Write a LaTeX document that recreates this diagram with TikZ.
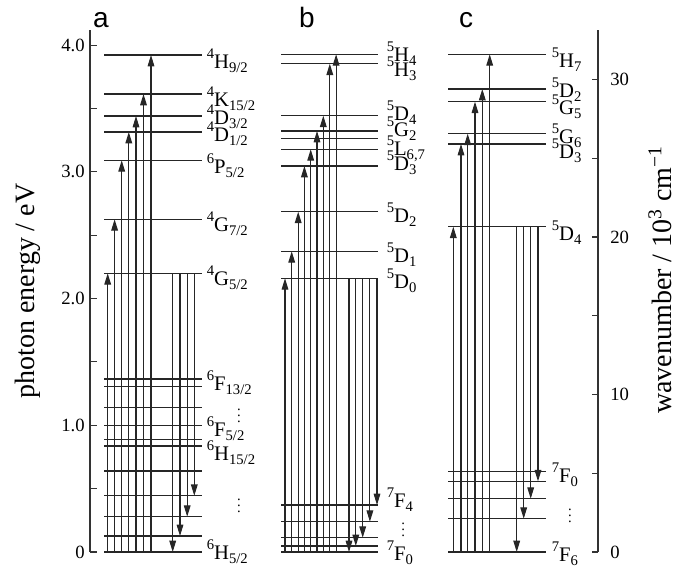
\documentclass[tikz,border=0pt]{standalone}
\usepackage{fontspec}
\setmainfont{Liberation Serif}
\newfontfamily\panelfont{Liberation Sans}
\usepackage{tikz}
\usetikzlibrary{arrows.meta}

% term symbol: multiplicity, letter, J
\newcommand{\term}[3]{%
  \raisebox{0.47em}{\fontsize{11}{11}\selectfont #1}#2%
  \raisebox{-0.2em}{\fontsize{11}{11}\selectfont #3}}
% small vertical dots
\newcommand{\vdotsmark}{%
  \vbox{\baselineskip=4.6pt \lineskiplimit=0pt \hbox{.}\hbox{.}\hbox{.}}}

\begin{document}
\begin{tikzpicture}[
  x=0.75pt, y=-0.75pt,
  axis/.style={line width=0.8pt, draw=black!80},
  levelline/.style={line width=0.9pt, draw=black!85},
  uparrow/.style={
    -{Triangle[length=8.5pt, width=5pt]},
    line width=0.8pt, draw=black!85, fill=black!85
  },
  downarrow/.style={uparrow},
  termlabel/.style={anchor=base west, inner sep=0pt,
    font=\fontsize{15.5}{17}\selectfont},
  ticklabel/.style={inner sep=0pt, font=\fontsize{14}{16}\selectfont},
  dotslabel/.style={inner sep=0pt, font=\fontsize{11}{11}\selectfont},
  axistitle/.style={rotate=90, inner sep=0pt, font=\fontsize{21}{24}\selectfont},
  panellabel/.style={anchor=base, inner sep=0pt,
    font=\panelfont\fontsize{21}{21}\selectfont}
]
\useasboundingbox (0,0) rectangle (678,568);

% axes
\draw[axis] (90,30) -- (90,552);
\foreach \k in {0,...,8}
  \draw[axis] (90,{552-63.35*\k}) -- ++(6.5,0);
\foreach \k/\t in {0/0, 2/1.0, 4/2.0, 6/3.0, 8/4.0}
  \node[ticklabel, anchor=east] (ev\k) at (85,{552-63.35*\k}) {\t};
\node[axistitle] (evtitle) at (28,291) {photon energy / eV};

\draw[axis] (598,30) -- (598,552);
\foreach \k in {0,...,6}
  \draw[axis] (598,{552-78.75*\k}) -- ++(-6.5,0);
\foreach \k/\t in {0/0, 2/10, 4/20, 6/30}
  \node[ticklabel, anchor=west] (wn\k) at (610,{552-78.75*\k}) {\t};
\node[axistitle] (wntitle) at (660,280)
  {wavenumber / 10\textsuperscript{3} cm\textsuperscript{−1}};

% panel a
\node[panellabel] (pa) at (101,27) {a};
\foreach \y in {55, 94, 116, 132, 160.3, 219.3, 273.3, 379, 386.7, 407.5,
                425.2, 439.3, 446, 471, 495.8, 516.7, 536, 552}
  \draw[levelline] (104.3,\y) -- (201.7,\y);
\foreach \x/\y in {107.7/273.3, 114.6/219.3, 121.7/160.3, 128.8/132,
                   136/116, 143.5/94, 151/55}
  \draw[uparrow] (\x,552) -- (\x,\y);
\foreach \x/\y in {172.7/552, 180/536, 187.2/516.7, 194.3/495.8}
  \draw[downarrow] (\x,273.3) -- (\x,\y);
\foreach \m/\l/\j/\b [count=\i] in {4/H/9\slash 2/68, 4/K/15\slash 2/106.7,
    4/D/3\slash 2/124, 4/D/1\slash 2/141.7, 6/P/5\slash 2/173.3,
    4/G/7\slash 2/231.3, 4/G/5\slash 2/285.3, 6/F/13\slash 2/390.7,
    6/F/5\slash 2/436.7, 6/H/15\slash 2/460, 6/H/5\slash 2/559}
  \node[termlabel] (ta\i) at (206.5,\b) {\term{\m}{\l}{\j}};
\node[dotslabel] (da1) at (239,416) {\vdotsmark};
\node[dotslabel] (da2) at (239,506) {\vdotsmark};

% panel b
\node[panellabel] (pb) at (307,27) {b};
\foreach \y in {54.3, 63.7, 115.7, 131, 138.3, 149.3, 166, 211.7, 251.3,
                278.3, 505, 521.7, 537.7, 546, 552}
  \draw[levelline] (281,\y) -- (378.3,\y);
\foreach \x/\y in {285/278.3, 291.7/251.3, 298.2/211.7, 304.4/166,
                   310.7/149.3, 317/131, 323.3/115.7, 329.8/63.7, 336.1/54.3}
  \draw[uparrow] (\x,552) -- (\x,\y);
\foreach \x/\y in {349/552, 355.8/546, 362.7/537.7, 369.9/521.7, 377/505}
  \draw[downarrow] (\x,278.3) -- (\x,\y);
\foreach \m/\l/\j/\b [count=\i] in {5/H/4/61.7, 5/H/3/76.7, 5/D/4/120,
    5/G/2/136, 5/L/{6,7}/155, 5/D/3/170, 5/D/2/222.7, 5/D/1/262.7,
    5/D/0/288, 7/F/4/507.3, 7/F/0/560}
  \node[termlabel] (tb\i) at (386.5,\b) {\term{\m}{\l}{\j}};
\node[dotslabel] (db1) at (403.3,530) {\vdotsmark};

% panel c
\node[panellabel] (pc) at (466,27) {c};
\foreach \y in {54.3, 89, 101.7, 133.7, 144, 226.7, 471.3, 481.3, 498.7,
                518.7, 552}
  \draw[levelline] (448.3,\y) -- (546,\y);
\foreach \x/\y in {453.3/226.7, 461/144, 467.7/133.7, 475/101.7,
                   482.3/89, 489.7/54.3}
  \draw[uparrow] (\x,552) -- (\x,\y);
\foreach \x/\y in {516.7/552, 523.7/518.7, 530.7/498.7, 538/481.3}
  \draw[downarrow] (\x,226.7) -- (\x,\y);
\foreach \m/\l/\j/\b [count=\i] in {5/H/7/67.3, 5/D/2/97.7, 5/G/5/114.3,
    5/G/6/143.3, 5/D/3/158.3, 5/D/4/240, 7/F/0/482.3, 7/F/6/561}
  \node[termlabel] (tc\i) at (551.5,\b) {\term{\m}{\l}{\j}};
\node[dotslabel] (dc1) at (570,516) {\vdotsmark};

\end{tikzpicture}
\end{document}
